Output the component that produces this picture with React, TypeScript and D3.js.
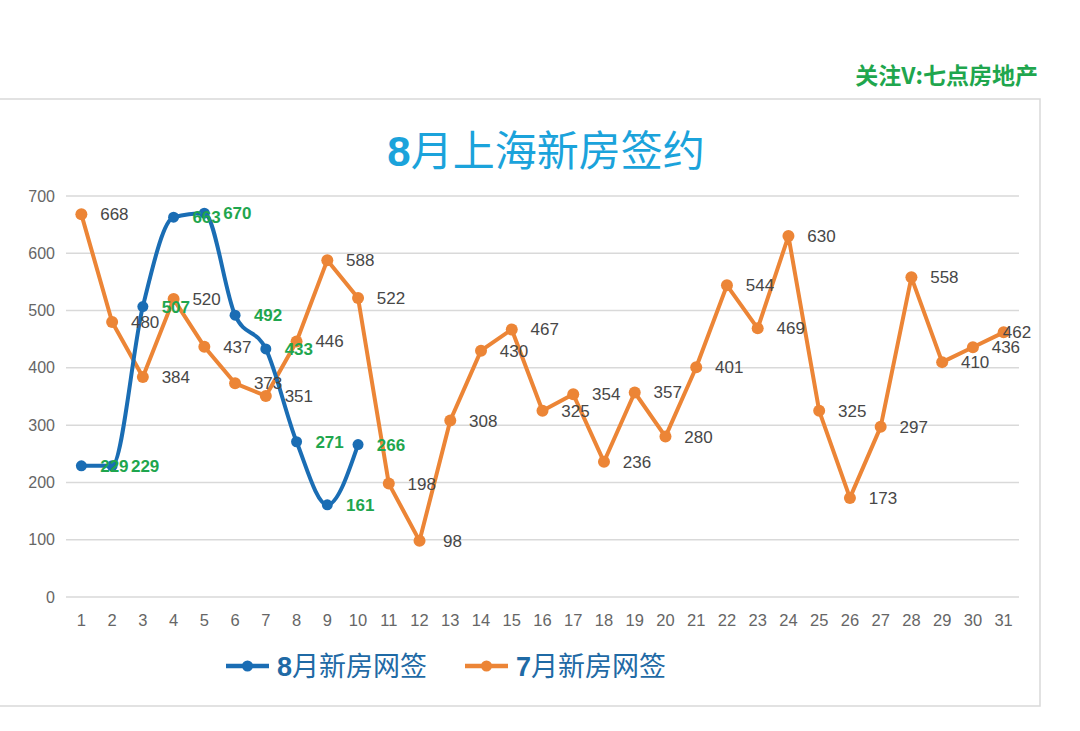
import * as d3 from 'd3';

const days = d3.range(1, 32).map(String);
const yTicks = [0, 100, 200, 300, 400, 500, 600, 700];

// 7月新房网签 (orange)
const julyValues = [668, 480, 384, 520, 437, 373, 351, 446, 588, 522, 198, 98, 308, 430, 467, 325, 354, 236, 357, 280, 401, 544, 469, 630, 325, 173, 297, 558, 410, 436, 462];
// 8月新房网签 (blue), only first ten days
const augValues = [229, 229, 507, 663, 670, 492, 433, 271, 161, 266];

const title = '8月上海新房签约';
const watermark = '关注V:七点房地产';
const seriesNames = ['8月新房网签', '7月新房网签'];

const BLUE = '#1a6db4';
const ORANGE = '#ec8536';
const GREEN = '#1fa64e';
const LABEL_GRAY = '#474747';
const AXIS_GRAY = '#666666';
const NUM_FONT = '"Liberation Sans", Arial, sans-serif';
const CJK_FONT = '"Noto Sans CJK SC", "Noto Sans", sans-serif';

export default function App() {
	const plot = { left: 66, right: 1019, top: 196, bottom: 597 };

	const x = d3.scaleBand<string>()
		.domain(days)
		.range([plot.left, plot.right]);
	const cx = (i: number) => (x(days[i]) as number) + x.bandwidth() / 2;

	const y = d3.scaleLinear()
		.domain([0, 700])
		.range([plot.bottom, plot.top]);

	const julyLine = d3.line<number>()
		.x((_, i) => cx(i))
		.y(d => y(d));

	const augLine = d3.line<number>()
		.x((_, i) => cx(i))
		.y(d => y(d))
		.curve(d3.curveMonotoneX); // smoothed like the excel line

	const labelX = (i: number) => Math.min(cx(i) + 33, plot.right - 2);

	return (
		<svg width={1080} height={731} style={{ position: 'absolute', left: 0, top: 0, background: '#fff' }}>
			<rect x={-2} y={99} width={1042} height={607} fill="#fff" stroke="#d9d9d9" strokeWidth={1.5} />

			<text x={1038} y={84} textAnchor="end" fontFamily={CJK_FONT} fontWeight="bold" fontSize={23} fill={GREEN}>
				{watermark}
			</text>

			<text x={546} y={166} textAnchor="middle" fontFamily={CJK_FONT} fontSize={42} fill="#1ba3db">
				<tspan fontFamily={NUM_FONT} fontWeight="bold">{title[0]}</tspan>
				<tspan>{title.slice(1)}</tspan>
			</text>

			{/* grid + y axis */}
			{yTicks.map(t => (
				<g key={t}>
					<line x1={plot.left} x2={plot.right} y1={y(t)} y2={y(t)} stroke="#d9d9d9" strokeWidth={1.5} />
					<text x={55} y={y(t)} dy="0.35em" textAnchor="end" fontFamily={NUM_FONT} fontSize={16} fill={AXIS_GRAY}>{t}</text>
				</g>
			))}

			{/* x axis labels */}
			{days.map((d, i) => (
				<text key={d} x={cx(i)} y={620} dy="0.35em" textAnchor="middle" fontFamily={NUM_FONT} fontSize={16.5} fill={AXIS_GRAY}>{d}</text>
			))}

			{/* July series */}
			<path d={julyLine(julyValues) ?? ''} fill="none" stroke={ORANGE} strokeWidth={4} strokeLinejoin="round" />
			{julyValues.map((v, i) => (
				<circle key={i} cx={cx(i)} cy={y(v)} r={6} fill={ORANGE} />
			))}

			{/* August series */}
			<path d={augLine(augValues) ?? ''} fill="none" stroke={BLUE} strokeWidth={4} strokeLinejoin="round" />
			{augValues.map((v, i) => (
				<circle key={i} cx={cx(i)} cy={y(v)} r={5.5} fill={BLUE} />
			))}

			{/* data labels */}
			{julyValues.map((v, i) => (
				<text key={i} x={labelX(i)} y={y(v)} dy="0.35em" textAnchor="middle" fontFamily={NUM_FONT} fontSize={17} fill={LABEL_GRAY}>{v}</text>
			))}
			{augValues.map((v, i) => (
				<text key={i} x={labelX(i)} y={y(v)} dy="0.35em" textAnchor="middle" fontFamily={NUM_FONT} fontWeight="bold" fontSize={17} fill={GREEN}>{v}</text>
			))}

			{/* legend */}
			{seriesNames.map((name, i) => {
				const lx = i === 0 ? 226 : 465;
				const color = i === 0 ? BLUE : ORANGE;
				return (
					<g key={name}>
						<line x1={lx} x2={lx + 43} y1={666} y2={666} stroke={color} strokeWidth={4.5} />
						<circle cx={lx + 21.5} cy={666} r={5.5} fill={color} />
						<text x={lx + 51} y={666} dy="0.36em" fontFamily={CJK_FONT} fontSize={27} fill="#1f6aa5">
							<tspan fontFamily={NUM_FONT} fontWeight="bold">{name[0]}</tspan>
							<tspan>{name.slice(1)}</tspan>
						</text>
					</g>
				);
			})}
		</svg>
	);
}
